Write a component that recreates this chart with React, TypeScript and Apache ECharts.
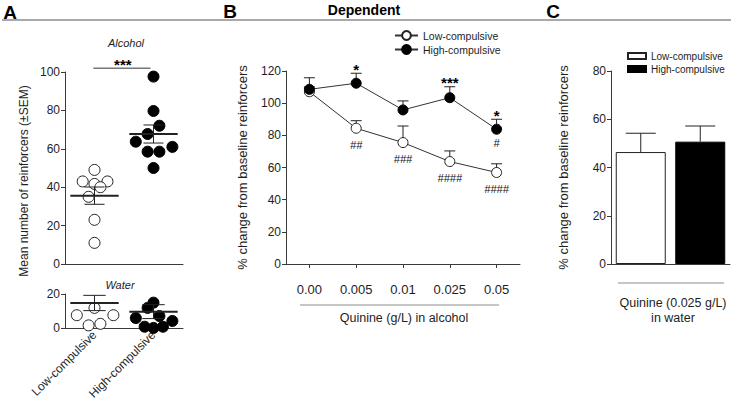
import React, { useEffect, useRef } from "react";
import * as echarts from "echarts";

// ---------- Panel A: individual animals [jittered x position, reinforcers] ----------
const groups = ["Low-compulsive", "High-compulsive"];
const alcoholLow = [[0.5, 49], [0.3, 43], [0.5, 41.7], [0.72, 43], [0.6, 40], [0.4, 35], [0.5, 23], [0.5, 11]];
const alcoholHigh = [[1.5, 97.6], [1.5, 79.7], [1.6, 72], [1.4, 67.7], [1.2, 63.7], [1.4, 58.5], [1.6, 58.5], [1.82, 61], [1.5, 50]];
const waterLow = [[0.5, 11.8], [0.2, 7.5], [0.82, 7.5], [0.4, 1.5], [0.6, 2.4]];
const waterHigh = [[1.5, 14.9], [1.4, 11.8], [1.6, 7], [1.2, 5.8], [1.82, 4.1], [1.35, 0.7], [1.5, 0], [1.66, 0.7]];
// [group centre, mean, SEM]
const alcoholMeans = [[0.5, 35.6, 4.5], [1.5, 67.7, 4.7]];
const waterMeans = [[0.5, 14.7, 4.5], [1.5, 9.6, 4.1]];
const alcoholSig = "***";

// ---------- Panel B ----------
const doses = ["0.00", "0.005", "0.01", "0.025", "0.05"];
const bLow = [107.1, 84.4, 75.5, 63.7, 56.9];
const bLowSem = [3, 4.7, 10.3, 6.6, 5.4];
const bHigh = [108.6, 112.4, 95.8, 103.4, 83.8];
const bHighSem = [7.2, 6.2, 5.6, 6.8, 6.2];
const bStars = ["", "*", "", "***", "*"];
const bHashLow = ["", "##", "###", "####", "####"];
const bHashHigh = ["", "", "", "", "#"];

// ---------- Panel C ----------
const cGroups = ["Low-compulsive (C)", "High-compulsive (C)"];
const cValues = [46.4, 50.7];
const cSem = [7.8, 6.5];

const FONT = "'Liberation Sans', Arial, Helvetica, sans-serif";
const AX = "#3a3a3a";
const TXT = "#1e1e1e";

export default function App() {
  const ref = useRef<HTMLDivElement>(null);

  useEffect(() => {
    if (!ref.current) return;
    const chart = echarts.init(ref.current, undefined, { renderer: "svg" });

    const axisLine = { show: true, lineStyle: { color: AX, width: 1 } };
    const yTick = { show: true, length: 4, lineStyle: { color: AX } };
    const yLabel = { fontSize: 12, color: TXT, margin: 5, fontFamily: FONT };

    const meanRender = (halfW: number, capW: number) => (params: any, api: any) => {
      const x = api.value(0), m = api.value(1), s = api.value(2);
      const pl = api.coord([x - halfW, m]);
      const pr = api.coord([x + halfW, m]);
      const pt = api.coord([x, m + s]);
      const pb = api.coord([x, m - s]);
      const cl = api.coord([x - capW, m])[0];
      const cr = api.coord([x + capW, m])[0];
      const st = { stroke: "#222", lineWidth: 1 };
      return {
        type: "group",
        children: [
          { type: "line", shape: { x1: pl[0], y1: pl[1], x2: pr[0], y2: pr[1] }, style: { stroke: "#222", lineWidth: 2 } },
          { type: "line", shape: { x1: pt[0], y1: pt[1], x2: pb[0], y2: pb[1] }, style: st },
          { type: "line", shape: { x1: cl, y1: pt[1], x2: cr, y2: pt[1] }, style: st },
          { type: "line", shape: { x1: cl, y1: pb[1], x2: cr, y2: pb[1] }, style: st },
        ],
      };
    };

    const upBarRender = (capPx: number) => (params: any, api: any) => {
      const i = api.value(0), v = api.value(1), s = api.value(2);
      const p0 = api.coord([i, v]);
      const p1 = api.coord([i, v + s]);
      const st = { stroke: "#222", lineWidth: 1 };
      return {
        type: "group",
        children: [
          { type: "line", shape: { x1: p0[0], y1: p0[1], x2: p1[0], y2: p1[1] }, style: st },
          { type: "line", shape: { x1: p1[0] - capPx, y1: p1[1], x2: p1[0] + capPx, y2: p1[1] }, style: st },
        ],
      };
    };

    const openDot = { color: "#fff", borderColor: "#222", borderWidth: 1, opacity: 1 };
    const fillDot = { color: "#000", borderColor: "#000", borderWidth: 1, opacity: 1 };
    const hidden = { color: "transparent", borderWidth: 0, opacity: 1 };

    const option: any = {
      animation: false,
      textStyle: { fontFamily: FONT },
      grid: [
        { left: 65, top: 72, width: 118, height: 192 },
        { left: 65, top: 294, width: 118, height: 39 },
        { left: 286, top: 71, width: 234, height: 193 },
        { left: 611, top: 71, width: 119, height: 193 },
      ],
      xAxis: [
        { gridIndex: 0, type: "value", min: 0, max: 2, axisLine, axisTick: { show: false }, axisLabel: { show: false }, splitLine: { show: false } },
        { gridIndex: 1, type: "value", min: 0, max: 2, axisLine, axisTick: { show: false }, axisLabel: { show: false }, splitLine: { show: false } },
        {
          gridIndex: 1, type: "category", data: groups, position: "bottom",
          axisLine: { show: false }, axisTick: { show: false },
          axisLabel: { rotate: 45, fontSize: 12, color: TXT, margin: 5, interval: 0, fontFamily: FONT },
        },
        {
          gridIndex: 2, type: "category", data: doses, axisLine,
          axisTick: { show: true, alignWithLabel: true, length: 4, lineStyle: { color: AX } },
          axisLabel: { fontSize: 13, color: TXT, margin: 19, interval: 0, fontFamily: FONT },
        },
        { gridIndex: 3, type: "category", data: cGroups, axisLine, axisTick: { show: false }, axisLabel: { show: false } },
      ],
      yAxis: [
        { gridIndex: 0, type: "value", min: 0, max: 100, interval: 20, axisLine, axisTick: yTick, axisLabel: yLabel, splitLine: { show: false } },
        { gridIndex: 1, type: "value", min: 0, max: 20, interval: 20, axisLine, axisTick: yTick, axisLabel: yLabel, splitLine: { show: false } },
        {
          gridIndex: 2, type: "value", min: 0, max: 120, interval: 20, axisLine, axisTick: yTick, axisLabel: yLabel, splitLine: { show: false },
          name: "% change from baseline reinforcers", nameLocation: "middle", nameGap: 37,
          nameTextStyle: { fontSize: 13, color: TXT, fontFamily: FONT },
        },
        {
          gridIndex: 3, type: "value", min: 0, max: 80, interval: 20, axisLine, axisTick: yTick, axisLabel: yLabel, splitLine: { show: false },
          name: "% change from baseline reinforcers", nameLocation: "middle", nameGap: 41,
          nameTextStyle: { fontSize: 13, color: TXT, fontFamily: FONT },
        },
      ],
      legend: [
        {
          left: 394, top: 30, padding: 0, orient: "vertical", itemWidth: 23, itemHeight: 11, itemGap: 3,
          selectedMode: false, data: ["Low-compulsive", "High-compulsive"],
          textStyle: { fontSize: 10.5, color: TXT, fontFamily: FONT },
        },
        {
          left: 627, top: 51, padding: 0, orient: "vertical", itemWidth: 18, itemHeight: 6, itemGap: 3, icon: "rect",
          selectedMode: false, data: cGroups,
          formatter: (n: string) => n.replace(" (C)", ""),
          textStyle: { fontSize: 10, color: TXT, fontFamily: FONT },
        },
      ],
      series: [
        // ----- Panel A alcohol -----
        { name: "A-alc-low", type: "scatter", xAxisIndex: 0, yAxisIndex: 0, data: alcoholLow, symbolSize: 11, itemStyle: openDot, z: 3 },
        { name: "A-alc-high", type: "scatter", xAxisIndex: 0, yAxisIndex: 0, data: alcoholHigh, symbolSize: 11, itemStyle: fillDot, z: 3 },
        { name: "A-alc-mean", type: "custom", xAxisIndex: 0, yAxisIndex: 0, data: alcoholMeans, renderItem: meanRender(0.41, 0.17), encode: { x: 0, y: 1 }, z: 4 },
        {
          name: "A-sig", type: "line", xAxisIndex: 0, yAxisIndex: 0, data: [[0.48, 102], [1.45, 102]], clip: false,
          symbol: "none", lineStyle: { color: "#333", width: 1 }, silent: true,
        },
        {
          name: "A-sig-label", type: "scatter", xAxisIndex: 0, yAxisIndex: 0, data: [[0.98, 102]], clip: false, symbolSize: 1,
          itemStyle: hidden,
          label: { show: true, position: "top", distance: -4, formatter: alcoholSig, fontSize: 15, fontWeight: "bold", color: "#000", fontFamily: FONT },
        },
        // ----- Panel A water -----
        { name: "A-wat-low", type: "scatter", xAxisIndex: 1, yAxisIndex: 1, data: waterLow, symbolSize: 11, itemStyle: openDot, z: 3, clip: false },
        { name: "A-wat-high", type: "scatter", xAxisIndex: 1, yAxisIndex: 1, data: waterHigh, symbolSize: 11, itemStyle: fillDot, z: 3, clip: false },
        { name: "A-wat-mean", type: "custom", xAxisIndex: 1, yAxisIndex: 1, data: waterMeans, renderItem: meanRender(0.41, 0.19), encode: { x: 0, y: 1 }, z: 4, clip: false },
        // ----- Panel B -----
        {
          name: "B-err", type: "custom", xAxisIndex: 3, yAxisIndex: 2, z: 1,
          data: bLow.map((v, i) => [i, v, bLowSem[i]]).concat(bHigh.map((v, i) => [i, v, bHighSem[i]])),
          renderItem: upBarRender(5.5), encode: { x: 0, y: 1 },
        },
        {
          name: "Low-compulsive", type: "line", xAxisIndex: 3, yAxisIndex: 2, data: bLow, z: 3,
          symbol: "circle", symbolSize: 10, itemStyle: openDot, lineStyle: { color: "#333", width: 1 },
        },
        {
          name: "High-compulsive", type: "line", xAxisIndex: 3, yAxisIndex: 2, data: bHigh, z: 4,
          symbol: "circle", symbolSize: 10, itemStyle: fillDot, lineStyle: { color: "#333", width: 1 },
        },
        {
          name: "B-stars", type: "scatter", xAxisIndex: 3, yAxisIndex: 2, symbolSize: 1, itemStyle: hidden,
          data: bStars.map((t, i) => ({ value: [i, bHigh[i] + bHighSem[i]], label: { formatter: t } })),
          label: { show: true, position: "top", distance: -4, fontSize: 15, fontWeight: "bold", color: "#000", fontFamily: FONT },
        },
        {
          name: "B-hash-low", type: "scatter", xAxisIndex: 3, yAxisIndex: 2, symbolSize: 10, itemStyle: hidden,
          data: bHashLow.map((t, i) => ({ value: [i, bLow[i]], label: { formatter: t } })),
          label: { show: true, position: "bottom", distance: 6, fontSize: 11, color: "#111", fontFamily: FONT, fontStyle: "italic" },
        },
        {
          name: "B-hash-high", type: "scatter", xAxisIndex: 3, yAxisIndex: 2, symbolSize: 10, itemStyle: hidden,
          data: bHashHigh.map((t, i) => ({ value: [i, bHigh[i]], label: { formatter: t } })),
          label: { show: true, position: "bottom", distance: 3, fontSize: 11, color: "#111", fontFamily: FONT, fontStyle: "italic" },
        },
        // ----- Panel C -----
        {
          name: cGroups[0], type: "bar", xAxisIndex: 4, yAxisIndex: 3, barWidth: 50, barGap: "-100%",
          data: [cValues[0], "-"], itemStyle: { color: "#fff", borderColor: "#222", borderWidth: 1 },
        },
        {
          name: cGroups[1], type: "bar", xAxisIndex: 4, yAxisIndex: 3, barWidth: 50, barGap: "-100%",
          data: ["-", cValues[1]], itemStyle: { color: "#000", borderColor: "#000", borderWidth: 1 },
        },
        {
          name: "C-err", type: "custom", xAxisIndex: 4, yAxisIndex: 3, z: 5,
          data: cValues.map((v, i) => [i, v, cSem[i]]), renderItem: upBarRender(15), encode: { x: 0, y: 1 },
        },
      ],
      graphic: [
        { type: "line", shape: { x1: 2, y1: 20, x2: 731, y2: 20 }, style: { stroke: "#8c8c8c", lineWidth: 1.5 } },
        { type: "text", x: 10, y: 12, style: { text: "A", fontSize: 19, fontWeight: "bold", fill: "#000", align: "center", verticalAlign: "middle", fontFamily: FONT } },
        { type: "text", x: 230, y: 11, style: { text: "B", fontSize: 19, fontWeight: "bold", fill: "#000", align: "center", verticalAlign: "middle", fontFamily: FONT } },
        { type: "text", x: 553, y: 11, style: { text: "C", fontSize: 19, fontWeight: "bold", fill: "#000", align: "center", verticalAlign: "middle", fontFamily: FONT } },
        { type: "text", x: 364, y: 10, style: { text: "Dependent", fontSize: 14, fontWeight: "bold", fill: "#000", align: "center", verticalAlign: "middle", fontFamily: FONT } },
        { type: "text", x: 126, y: 43, style: { text: "Alcohol", fontSize: 11, fontStyle: "italic", fill: TXT, align: "center", verticalAlign: "middle", fontFamily: FONT } },
        { type: "text", x: 120, y: 285, style: { text: "Water", fontSize: 11, fontStyle: "italic", fill: TXT, align: "center", verticalAlign: "middle", fontFamily: FONT } },
        {
          type: "text", x: 24, y: 181, rotation: Math.PI / 2,
          style: { text: "Mean number of reinforcers (±SEM)", fontSize: 12, fill: TXT, align: "center", verticalAlign: "middle", fontFamily: FONT },
        },
        { type: "line", shape: { x1: 300, y1: 305, x2: 499, y2: 305 }, style: { stroke: "#8c8c8c", lineWidth: 1 } },
        { type: "text", x: 404, y: 318, style: { text: "Quinine (g/L) in alcohol", fontSize: 12.5, fill: TXT, align: "center", verticalAlign: "middle", fontFamily: FONT } },
        { type: "line", shape: { x1: 618, y1: 283, x2: 724, y2: 283 }, style: { stroke: "#8c8c8c", lineWidth: 1 } },
        { type: "text", x: 673, y: 303, style: { text: "Quinine (0.025 g/L)", fontSize: 12.5, fill: TXT, align: "center", verticalAlign: "middle", fontFamily: FONT } },
        { type: "text", x: 673, y: 318, style: { text: "in water", fontSize: 12.5, fill: TXT, align: "center", verticalAlign: "middle", fontFamily: FONT } },
      ],
    };

    chart.setOption(option);
    return () => chart.dispose();
  }, []);

  return <div ref={ref} style={{ width: 733, height: 402, position: "absolute", left: 0, top: 0, background: "#fff" }} />;
}
